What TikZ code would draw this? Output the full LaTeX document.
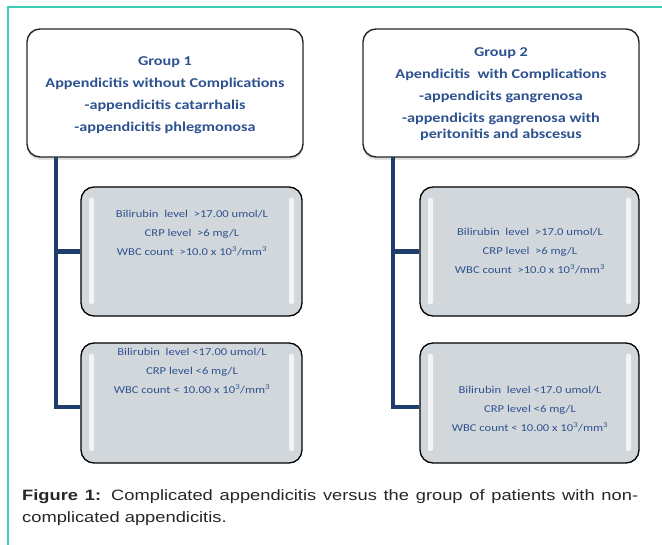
\documentclass[tikz,border=0pt]{standalone}
\usepackage{fontspec}
\setmainfont[FakeStretch=1.2]{Carlito}
\newfontfamily\capfont[FakeStretch=1.22]{Liberation Sans}
\usetikzlibrary{shadows}
\definecolor{frameteal}{HTML}{3ECFB2}
\definecolor{navy}{HTML}{1F3D6B}
\definecolor{txtblue}{HTML}{2E5290}
\definecolor{boxgray}{HTML}{D2D7DC}
\begin{document}
\begin{tikzpicture}[x=1pt,y=-1pt,
  groupbox/.style={draw=black!85, line width=1.4pt, rounded corners=13pt, fill=white,
    minimum width=276pt, minimum height=128pt, inner sep=0pt,
    drop shadow={shadow xshift=0pt, shadow yshift=-3pt, opacity=0.25}},
  grouptext/.style={align=center, text=txtblue, font=\fontsize{13.5}{16}\selectfont\bfseries},
  graybox/.style={draw=black, line width=1.3pt, rounded corners=13pt, fill=boxgray, inner sep=0pt,
    path picture={
      \fill[white, opacity=0.75, rounded corners=2pt]
        ([xshift=8pt,yshift=-11pt]path picture bounding box.north west) rectangle
        ([xshift=13pt,yshift=12pt]path picture bounding box.south west);
      \fill[white, opacity=0.75, rounded corners=2pt]
        ([xshift=-8pt,yshift=-11pt]path picture bounding box.north east) rectangle
        ([xshift=-13pt,yshift=12pt]path picture bounding box.south east);
    }},
  valtext/.style={align=center, text=txtblue, font=\fontsize{10.5}{19}\selectfont},
  conn/.style={draw=navy, line width=4.5pt},
]
\useasboundingbox (0,0) rectangle (662,545);
% frame
\draw[frameteal, line width=1.5pt] (8,545) -- (8,7) -- (662,7);

% group boxes
\node[groupbox] (g1) at (165,93) {};
\node[grouptext] (g1t) at (165,95) {Group 1\\[6pt]Appendicitis without Complications\\[6pt]-appendicitis catarrhalis\\[6pt]-appendicitis phlegmonosa};
\node[groupbox] (g2) at (501,93) {};
\node[grouptext] (g2t) at (501,94) {Group 2\\[6pt]Apendicitis\ \ with Complications\\[6pt]-appendicits gangrenosa\\[6pt]-appendicits gangrenosa with\\peritonitis and abscesus};

% value boxes
\node[graybox, minimum width=221pt, minimum height=129pt] (a1) at (191.5,251.5) {};
\node[graybox, minimum width=221pt, minimum height=120pt] (a2) at (191.5,403) {};
\node[graybox, minimum width=219pt, minimum height=129pt] (b1) at (529.5,251.5) {};
\node[graybox, minimum width=219pt, minimum height=120pt] (b2) at (529.5,403) {};

\node[valtext] (a1t) at (192,233) {Bilirubin\ \ level\ \ {>}17.00 umol/L\\CRP level\ \ {>}6 mg/L\\WBC count\ \ {>}10.0 x 10\textsuperscript{3}/mm\textsuperscript{3}};
\node[valtext] (a2t) at (192,371) {Bilirubin\ \ level {<}17.00 umol/L\\CRP level {<}6 mg/L\\WBC count\ {<}\ 10.00 x 10\textsuperscript{3}/mm\textsuperscript{3}};
\node[valtext] (b1t) at (530,251.5) {Bilirubin\ \ level\ \ {>}17.0 umol/L\\CRP level\ \ {>}6 mg/L\\WBC count\ \ {>}10.0 x 10\textsuperscript{3}/mm\textsuperscript{3}};
\node[valtext] (b2t) at (530,409) {Bilirubin\ \ level {<}17.0 umol/L\\CRP level {<}6 mg/L\\WBC count\ {<}\ 10.00 x 10\textsuperscript{3}/mm\textsuperscript{3}};

% connectors
\coordinate (v1) at (56,157.5);
\coordinate (v2) at (393,157.5);
\draw[conn] (v1) |- (a1.west);
\draw[conn] (v1) |- ([yshift=-4pt]a2.west);
\draw[conn] (v2) |- (b1.west);
\draw[conn] (v2) |- ([yshift=-4pt]b2.west);

% caption
\node[anchor=north west, text width=616pt, align=justify, inner sep=0pt,
  font=\capfont\fontsize{15}{22}\selectfont, text=black!85] (cap) at (22,489)
  {\hyphenpenalty=10000 \textbf{Figure 1:} Complicated appendicitis versus the group of patients with non-\linebreak complicated appendicitis.};
\end{tikzpicture}
\end{document}
